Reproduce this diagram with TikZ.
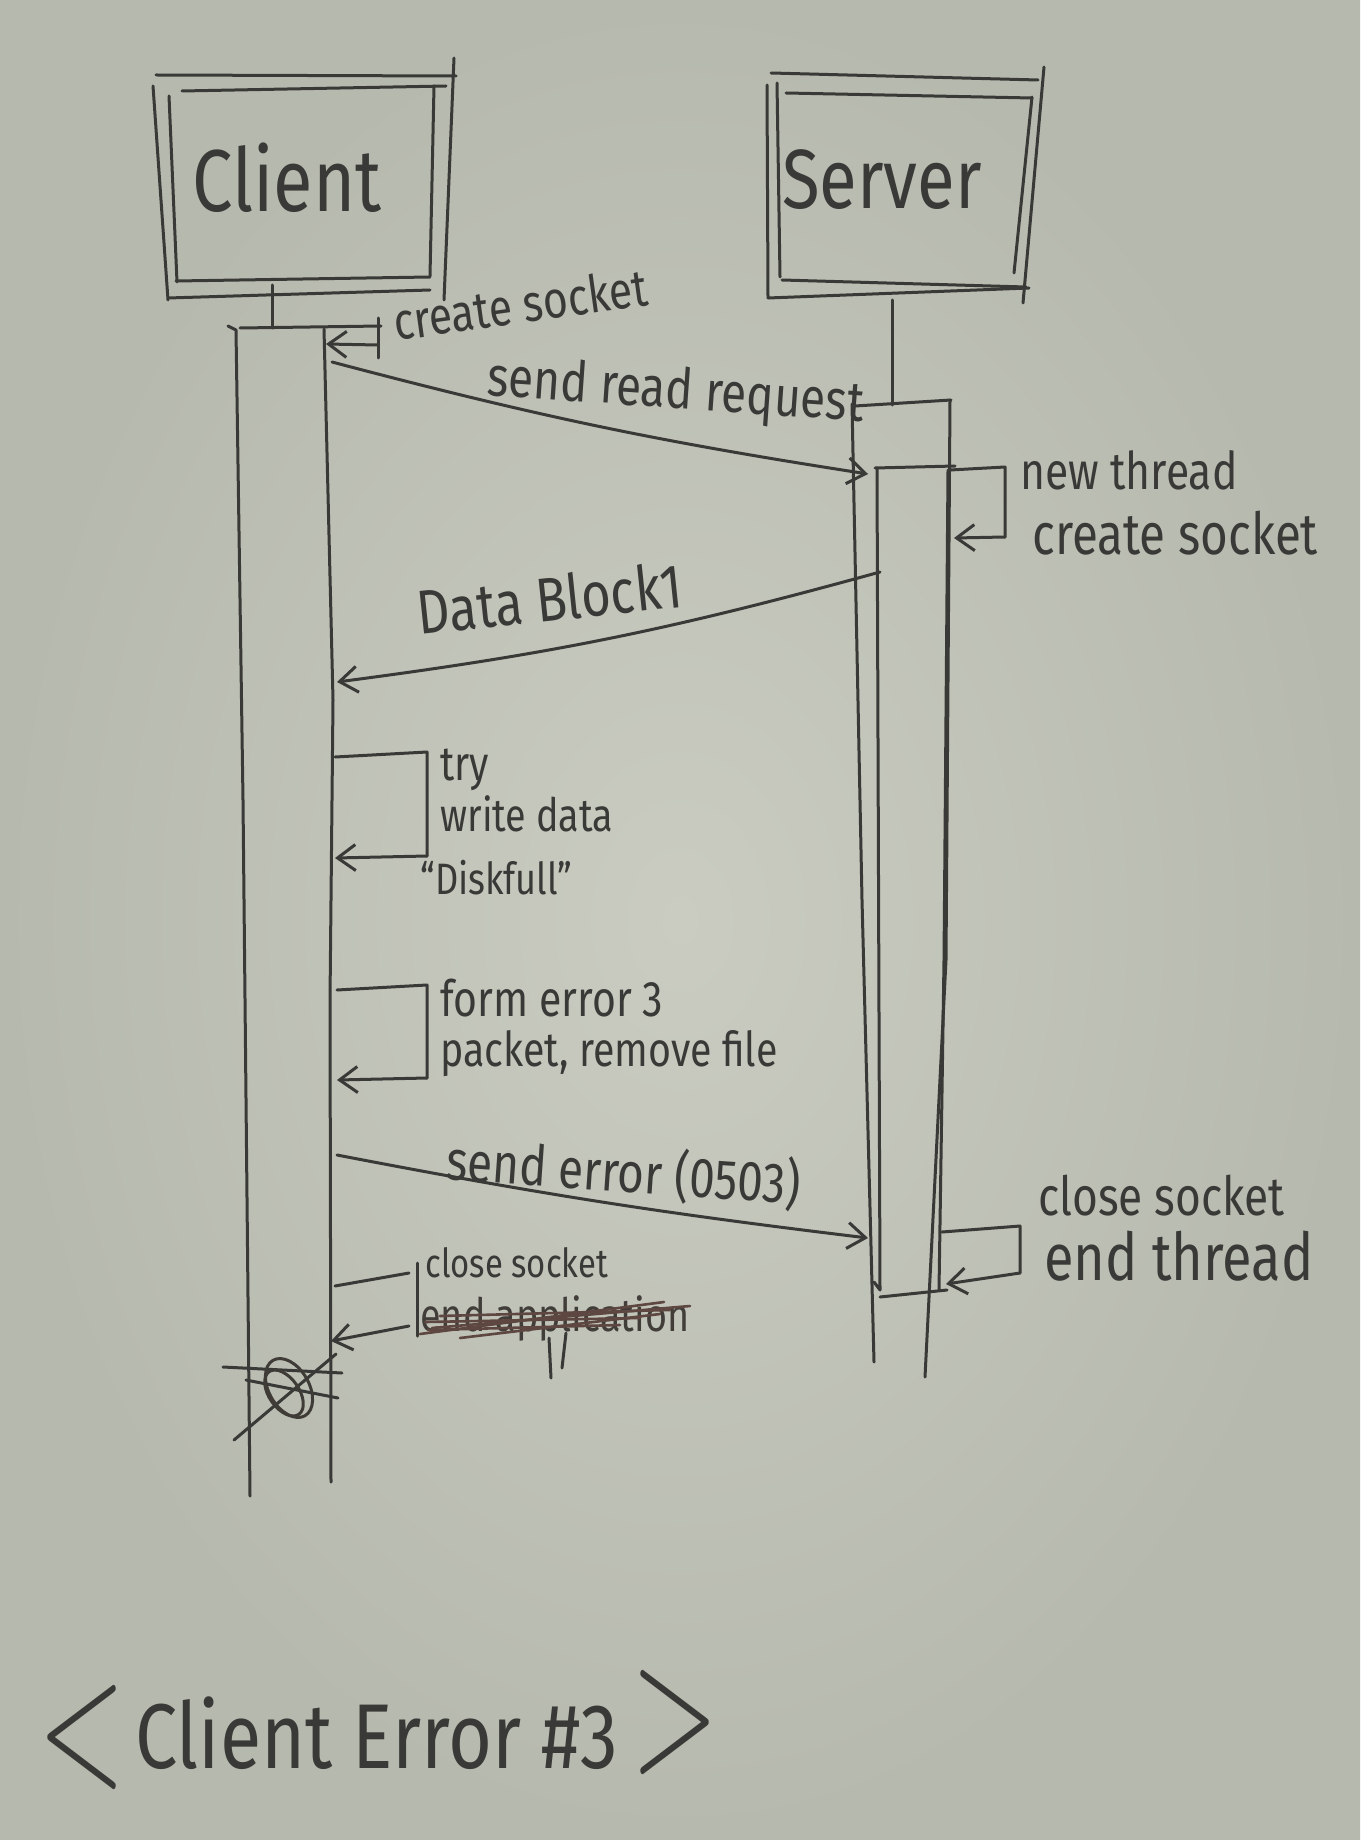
\documentclass[tikz,border=0pt]{standalone}
\usepackage{fontspec}
\setmainfont{Fira Sans}[FakeStretch=0.82]
\usetikzlibrary{arrows.meta}
\definecolor{paper}{HTML}{CACCC1}
\definecolor{paperedge}{HTML}{B6B9AE}
\definecolor{pencil}{HTML}{393A37}
\definecolor{redpen}{HTML}{5E4741}
\begin{document}
\begin{tikzpicture}[x=0.5pt,y=-0.5pt,
  pen/.style={draw=pencil, line width=1.5pt, line cap=round, line join=round},
  msg/.style={pen, -{Straight Barb[length=9pt,width=13pt,line width=1.5pt]}},
  hand/.style={text=pencil, inner sep=0pt, font=\fontsize{#1}{#1}\selectfont},
  hand/.default=24,
  bracket/.style={text=pencil, inner sep=2pt, font=\fontsize{10}{12}\selectfont},
  scribble/.style={draw=redpen, line width=1.3pt, line cap=round}]

% paper
\useasboundingbox (0,0) rectangle (1360,1840);
\shade[inner color=paper, outer color=paperedge] (0,0) rectangle (1360,1840);

% ---------- Client head box (double sketched frame) ----------
\draw[pen] (156,75) -- (456,76);
\draw[pen] (182,91) -- (446,86);
\draw[pen] (153,86) -- (168,300);
\draw[pen] (169,96) -- (177,282);
\draw[pen] (454,58) -- (444,300);
\draw[pen] (434,86) -- (430,276);
\draw[pen] (176,281) -- (430,277);
\draw[pen] (168,298) -- (430,290);
\node[hand=44] (clientlbl) at (287,178) {Client};

% ---------- Server head box ----------
\draw[pen] (771,73) -- (1038,80);
\draw[pen] (786,93) -- (1032,98);
\draw[pen] (767,85) -- (768,298);
\draw[pen] (777,83) -- (780,277);
\draw[pen] (1032,97) -- (1014,273);
\draw[pen] (1044,67) -- (1023,303);
\draw[pen] (782,280) -- (1026,287);
\draw[pen] (768,298) -- (1029,288);
\node[hand=42] (serverlbl) at (882,180) {Server};

% ---------- Client lifeline and activation bar ----------
\coordinate (cstubA) at (272,285);
\coordinate (cstubB) at (272,328);
\draw[pen] (cstubA) -- (cstubB);
\coordinate (cbarTL) at (236,330);
\coordinate (cbarTR) at (324,329);
\coordinate (cbarBL) at (250,1496);
\coordinate (cbarBR) at (331,1482);
\draw[pen] (228,326) -- (cbarTL) -- (243,800) -- (cbarBL);
\draw[pen] (cbarTR) -- (333,700) -- (330,1000) -- (cbarBR);
\draw[pen] (240,328) -- (381,326);

% create socket (client self call)
\coordinate (l1a) at (378,318);
\coordinate (l1b) at (378,358);
\coordinate (l1t) at (326,344);
\draw[pen] (l1a) -- (l1b);
\draw[msg] (378,345) -- (l1t);
\node[hand=26, anchor=west, rotate=8] (cs1) at (393,322) {create socket};

% ---------- Server lifeline and activation bars ----------
\coordinate (sstubA) at (892,300);
\coordinate (sstubB) at (892,405);
\draw[pen] (sstubA) -- (sstubB);
% outer bar
\draw[pen] (855,406) -- (951,400);
\draw[pen] (852,404) -- (862,900) -- (874,1362);
\draw[pen] (950,400) -- (946,960) -- (925,1377);
% inner bar (thread)
\draw[pen] (875,468) -- (955,466);
\draw[pen] (877,468) -- (880,1290) -- (874,1282);
\draw[pen] (948,470) -- (944,960) -- (939,1290);
\draw[pen] (880,1297) -- (947,1290);

% send read request
\coordinate (req0) at (332,362);
\coordinate (req1) at (868,474);
\draw[msg] (req0) to[bend right=3] (req1);
\node[hand=28, anchor=west, rotate=-4] (srr) at (487,380) {send read request};

% new thread / create socket (server self call)
\coordinate (nt0) at (950,470);
\coordinate (nt1) at (1005,467);
\coordinate (nt2) at (1005,537);
\coordinate (nt3) at (954,538);
\draw[pen] (nt0) -- (nt1) -- (nt2);
\draw[msg] (nt2) -- (nt3);
\node[hand=26, anchor=west] (ntl) at (1020,470) {new thread};
\node[hand=29, anchor=west] (cs2) at (1032,533) {create socket};

% Data Block1
\coordinate (db0) at (880,572);
\coordinate (db1) at (337,682);
\draw[msg] (db0) to[bend left=4] (db1);
\node[hand=31, anchor=west, rotate=6] (dbl) at (417,612) {Data Block1};

% try / write data
\coordinate (w0) at (335,757);
\coordinate (w1) at (427,752);
\coordinate (w2) at (427,856);
\coordinate (w3) at (335,858);
\draw[pen] (w0) -- (w1) -- (w2);
\draw[msg] (w2) -- (w3);
\node[hand=24, anchor=west] (tryl) at (440,770) {try};
\node[hand=23, anchor=west] (wdl) at (440,814) {write data};
\node[hand=22, anchor=west] (dfl) at (420,878) {“Diskfull”};

% form error 3 packet, remove file
\coordinate (f0) at (337,990);
\coordinate (f1) at (427,985);
\coordinate (f2) at (427,1078);
\coordinate (f3) at (337,1080);
\draw[pen] (f0) -- (f1) -- (f2);
\draw[msg] (f2) -- (f3);
\node[hand=25, anchor=west] (fel) at (440,998) {form error 3};
\node[hand=24, anchor=west] (prl) at (440,1054) {packet, remove file};

% send error
\coordinate (se0) at (337,1155);
\coordinate (se1) at (868,1238);
\draw[msg] (se0) to[bend right=2] (se1);
\node[hand=28, anchor=west, rotate=-4] (sel) at (446,1160) {send error (0503)};

% server close socket / end thread
\coordinate (sc0) at (942,1232);
\coordinate (sc1) at (1020,1226);
\coordinate (sc2) at (1020,1273);
\coordinate (sc3) at (946,1284);
\draw[pen] (sc0) -- (sc1) -- (sc2);
\draw[msg] (sc2) -- (sc3);
\node[hand=27, anchor=west] (cs4) at (1038,1196) {close socket};
\node[hand=33, anchor=west] (etl) at (1044,1256) {end thread};

% client close socket
\coordinate (cc0) at (335,1286);
\coordinate (cc1) at (409,1273);
\coordinate (cc2) at (417,1263);
\coordinate (cc3) at (417,1336);
\coordinate (cc4) at (409,1326);
\coordinate (cc5) at (331,1341);
\draw[pen] (cc0) -- (cc1);
\draw[pen] (cc2) -- (cc3);
\draw[msg] (cc4) -- (cc5);
\node[hand=20, anchor=west] (cs3) at (425,1263) {close socket};
\node[hand=23, anchor=west, text=pencil!80!redpen] (eal) at (420,1318) {end application};
\draw[scribble] (420,1334) -- (664,1302);
\draw[scribble] (432,1328) -- (690,1306);
\draw[scribble] (460,1338) -- (660,1314);
\draw[scribble] (425,1322) -- (640,1318);
\draw[scribble] (440,1316) -- (670,1310);
\draw[scribble] (428,1330) -- (620,1325);
\draw[pen] (549,1338) -- (551,1378);
\draw[pen] (566,1333) -- (562,1368);

% end of client lifeline: crossed circle
\draw[pen] (223,1367) -- (342,1373);
\draw[pen] (246,1380) -- (338,1398);
\draw[pen] (234,1440) -- (336,1354);
\draw[pen, draw=pencil!85!redpen] (289,1388) ellipse [x radius=32, y radius=20, rotate=-60];
\draw[pen, draw=pencil!85!redpen] (284,1393) ellipse [x radius=26, y radius=15, rotate=-55];

% ---------- caption ----------
\node[bracket] (lt) at (82,1737) {\scalebox{5.6}[9]{$<$}};
\node[hand=46, anchor=west] (cap) at (135,1733) {Client Error \#3};
\node[bracket] (gt) at (675,1722) {\scalebox{5.6}[9]{$>$}};
\end{tikzpicture}
\end{document}
